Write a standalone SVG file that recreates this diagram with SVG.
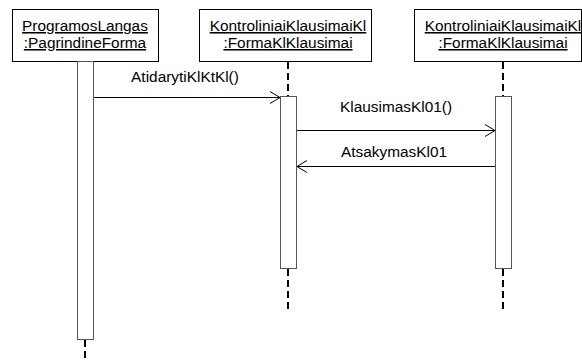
<svg xmlns="http://www.w3.org/2000/svg" width="582" height="360" viewBox="0 0 582 360">
<style>
text{font-family:"Liberation Sans",Arial,sans-serif;font-size:15.4px;fill:#000}
.obj{fill:#fff;stroke:#000;stroke-width:1}
.name{text-decoration:underline;text-anchor:middle}
.act{fill:#fff;stroke:#555;stroke-width:1}
.life{stroke:#000;stroke-width:2;stroke-dasharray:7,4;fill:none}
.msg{stroke:#000;stroke-width:1;fill:none}
.lbl{text-anchor:middle}
</style>
<defs>
<marker id="open" markerWidth="12" markerHeight="14" refX="11" refY="7" orient="auto" markerUnits="userSpaceOnUse">
<path d="M1,1 L11,7 L1,13" fill="none" stroke="#000" stroke-width="1"/>
</marker>
</defs>
<g id="lifeline1">
<rect class="obj" x="12.5" y="9.5" width="146" height="52"/>
<text class="name" x="85" y="31">ProgramosLangas</text>
<text class="name" x="85" y="48">:PagrindineForma</text>
<rect class="act" x="77.5" y="61.5" width="16" height="278"/>
<line class="life" x1="85" y1="340" x2="85" y2="360"/>
</g>
<g id="lifeline2">
<rect class="obj" x="199.5" y="9.5" width="172" height="52"/>
<text class="name" x="288" y="31">KontroliniaiKlausimaiKl</text>
<text class="name" x="288" y="48">:FormaKlKlausimai</text>
<line class="life" x1="288" y1="62" x2="288" y2="96"/>
<rect class="act" x="280.5" y="96.5" width="16" height="172"/>
<line class="life" x1="288" y1="269" x2="288" y2="310"/>
</g>
<g id="lifeline3">
<rect class="obj" x="414.5" y="9.5" width="167" height="52"/>
<text class="name" x="503" y="31">KontroliniaiKlausimaiKl</text>
<text class="name" x="503" y="48">:FormaKlKlausimai</text>
<line class="life" x1="503" y1="62" x2="503" y2="96"/>
<rect class="act" x="495.5" y="96.5" width="16" height="172"/>
<line class="life" x1="503" y1="269" x2="503" y2="310"/>
</g>
<g id="connectors">
<line class="msg" x1="94" y1="97.5" x2="280" y2="97.5" marker-end="url(#open)"/>
<text class="lbl" x="185" y="82">AtidarytiKlKtKl()</text>
<line class="msg" x1="297" y1="130.5" x2="495" y2="130.5" marker-end="url(#open)"/>
<text class="lbl" x="396" y="112">KlausimasKl01()</text>
<line class="msg" x1="495" y1="166.5" x2="297" y2="166.5" marker-end="url(#open)"/>
<text class="lbl" x="394" y="157">AtsakymasKl01</text>
</g>
</svg>
